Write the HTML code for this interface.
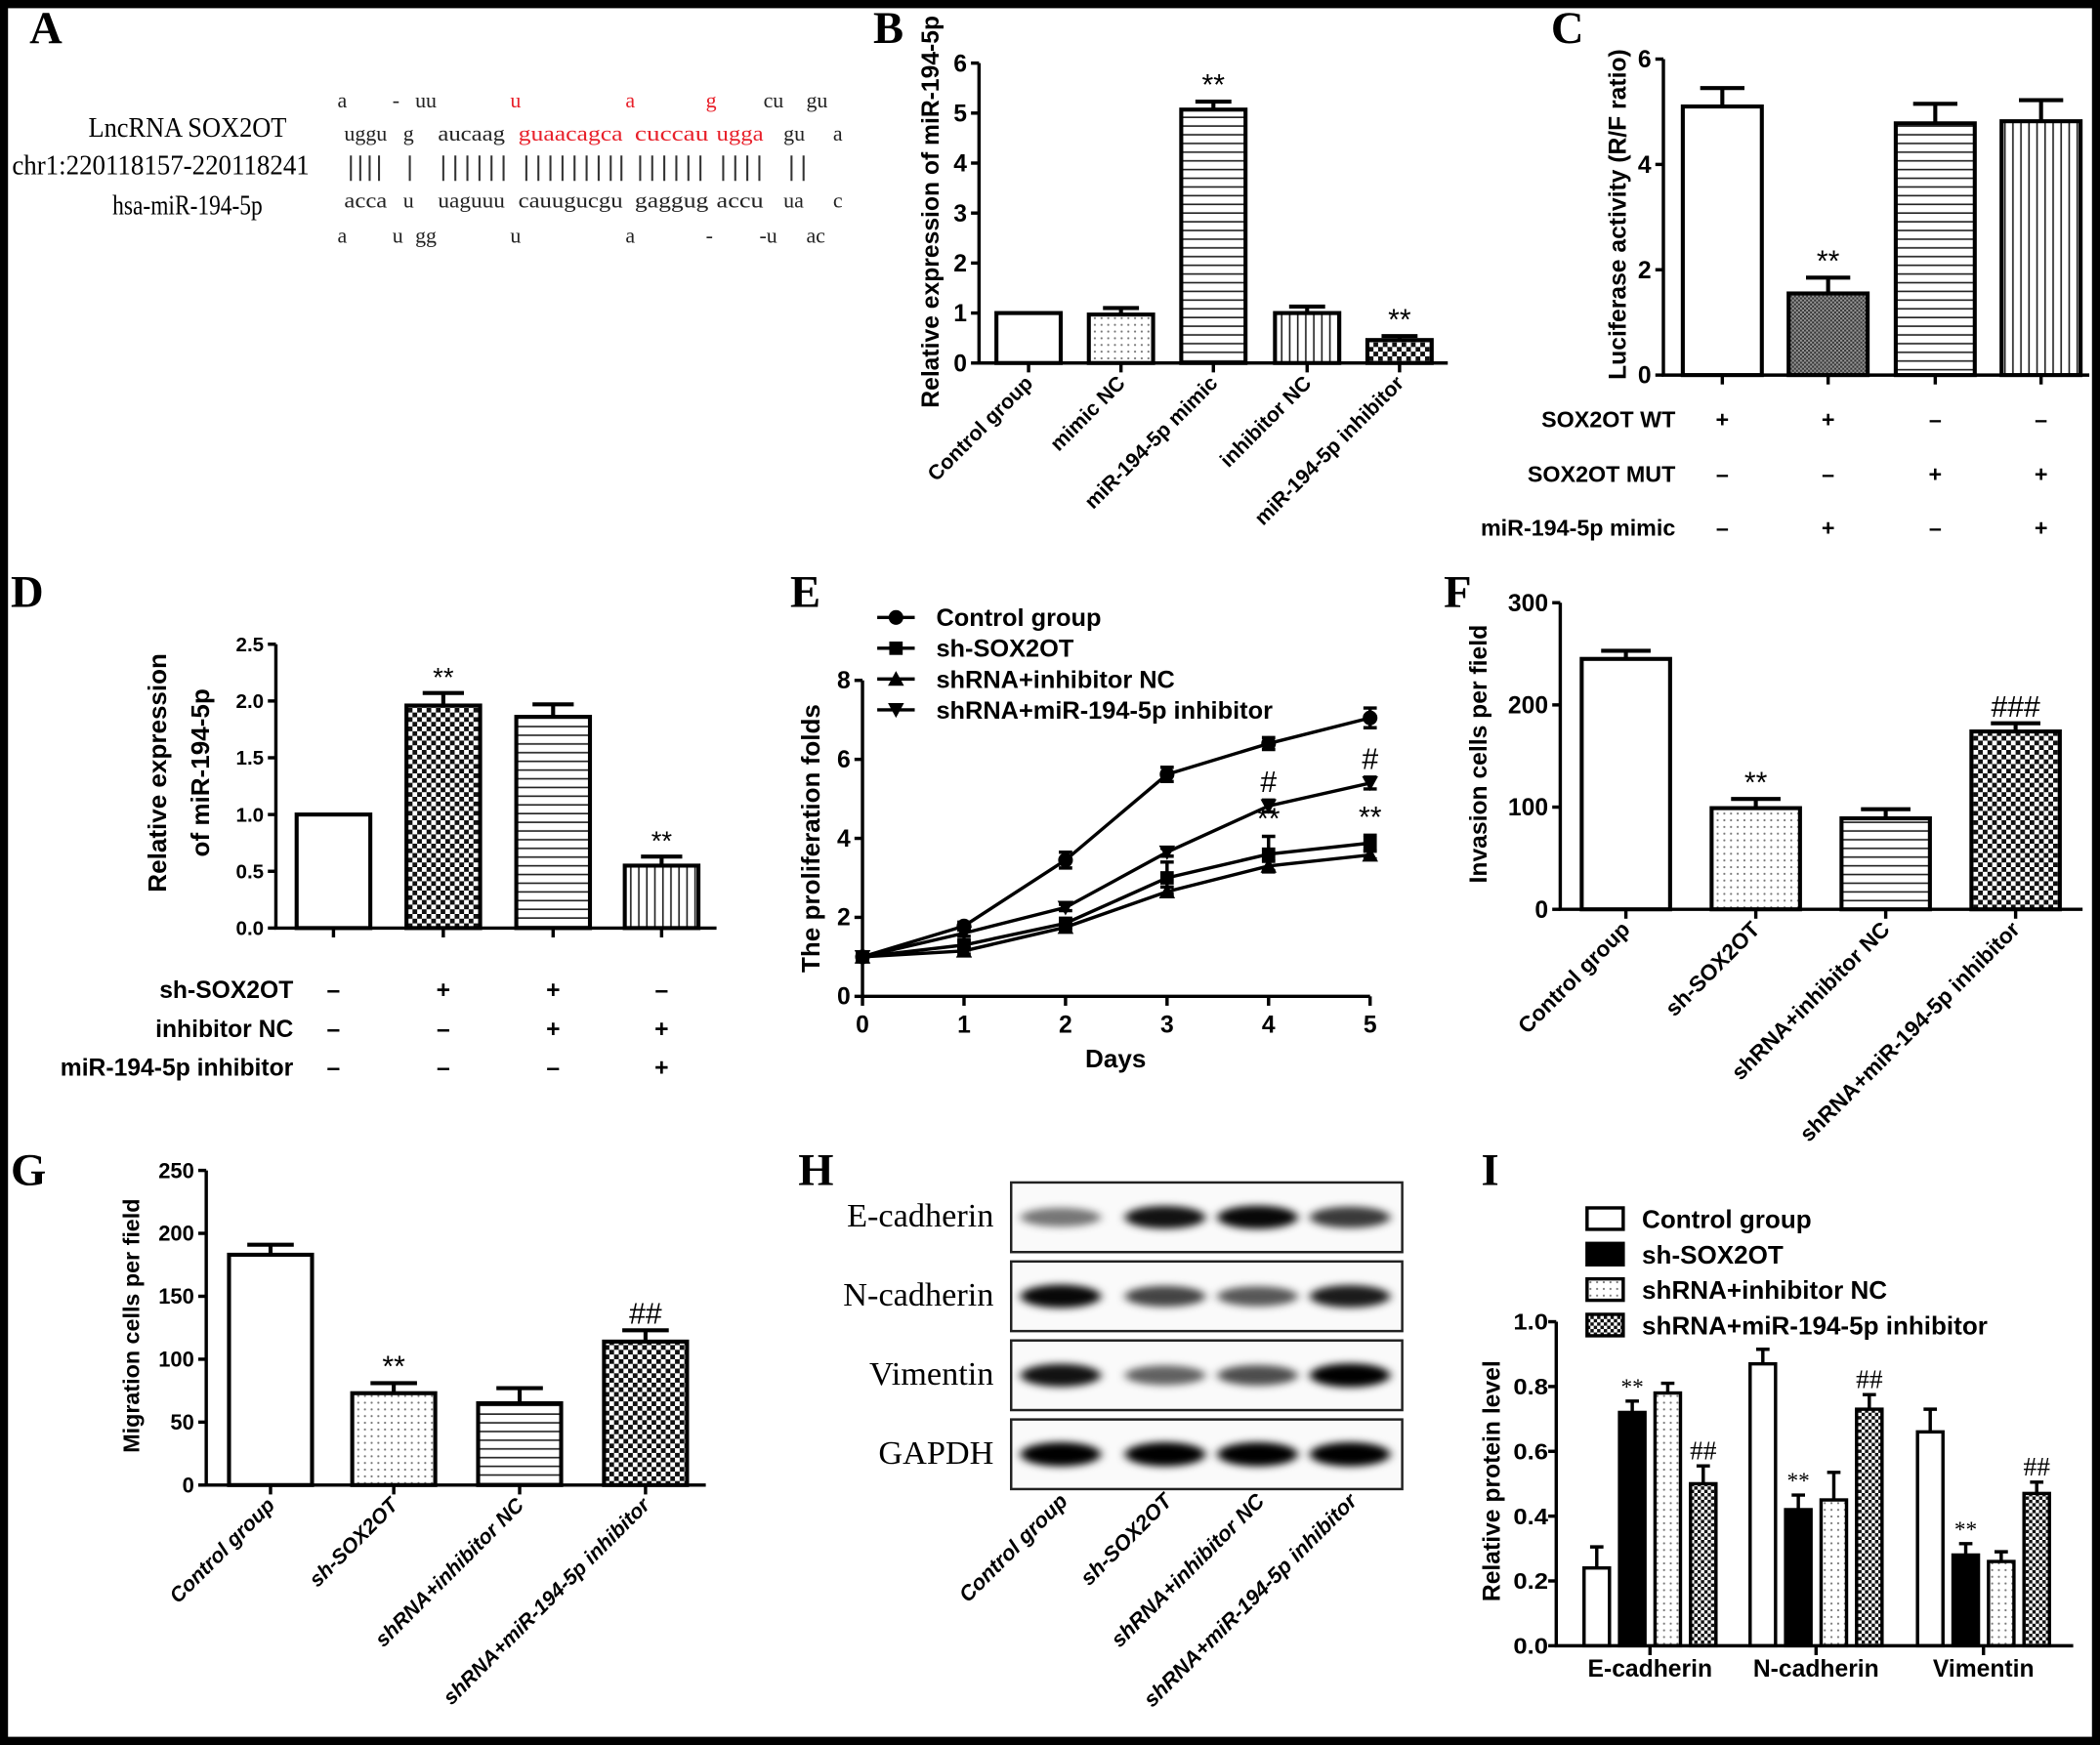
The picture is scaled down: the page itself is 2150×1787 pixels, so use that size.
<!DOCTYPE html>
<html><head><meta charset="utf-8"><style>
html,body{margin:0;padding:0;background:#000;}
svg{display:block;}
text{font-family:"Liberation Sans",Arial,sans-serif;}
.serif{font-family:"Liberation Serif","Times New Roman",serif;}
</style></head><body>
<svg id="fig" xmlns="http://www.w3.org/2000/svg" width="2150" height="1787" viewBox="0 0 1568 1303">
<defs>
<pattern id="pDots" width="5" height="5" patternUnits="userSpaceOnUse"><rect width="5" height="5" fill="#fff"/><circle cx="2.5" cy="2.5" r="0.8" fill="#777"/></pattern>
<pattern id="pH" width="6" height="6.5" patternUnits="userSpaceOnUse"><rect width="6" height="6.5" fill="#fff"/><line x1="0" y1="3" x2="6" y2="3" stroke="#222" stroke-width="1.2"/></pattern>
<pattern id="pV" width="6" height="6" patternUnits="userSpaceOnUse"><rect width="6" height="6" fill="#fff"/><line x1="3" y1="0" x2="3" y2="6" stroke="#222" stroke-width="1.2"/></pattern>
<pattern id="pC" width="7" height="7" patternUnits="userSpaceOnUse"><rect width="7" height="7" fill="#fff"/><rect width="3.5" height="3.5" fill="#111"/><rect x="3.5" y="3.5" width="3.5" height="3.5" fill="#111"/></pattern>
<pattern id="pCs" width="5" height="5" patternUnits="userSpaceOnUse"><rect width="5" height="5" fill="#fff"/><rect width="2.5" height="2.5" fill="#111"/><rect x="2.5" y="2.5" width="2.5" height="2.5" fill="#111"/></pattern>
<pattern id="pG" width="3" height="3" patternUnits="userSpaceOnUse"><rect width="3" height="3" fill="#999"/><rect width="1.5" height="1.5" fill="#333"/><rect x="1.5" y="1.5" width="1.5" height="1.5" fill="#333"/></pattern>
<filter id="blur" x="-30%" y="-100%" width="160%" height="300%"><feGaussianBlur stdDeviation="3.5 3"/></filter>
</defs>
<rect x="6" y="6" width="1556" height="1291" fill="#fff"/>
<g id="root"></g>
</svg>
<script>
// ===== DATA =====
const bCats=['Control group','mimic NC','miR-194-5p mimic','inhibitor NC','miR-194-5p inhibitor'];
const bVals=[1.0,0.97,5.07,1.0,0.46];
const bErrs=[0,0.13,0.16,0.13,0.08];
const bTicks=[0,1,2,3,4,5,6];
const bAnn=['','','**','','**'];

const cVals=[5.1,1.55,4.78,4.82];
const cErrs=[0.35,0.3,0.37,0.4];
const cTicks=[0,2,4,6];
const cAnn=['','**','',''];
const cRows=['SOX2OT WT','SOX2OT MUT','miR-194-5p mimic'];
const cSigns=[['+','+','–','–'],['–','–','+','+'],['–','+','–','+']];

const dVals=[1.0,1.96,1.86,0.55];
const dErrs=[0,0.11,0.11,0.08];
const dTicks=[0,0.5,1.0,1.5,2.0,2.5];
const dAnn=['','**','','**'];
const dRows=['sh-SOX2OT','inhibitor NC','miR-194-5p inhibitor'];
const dSigns=[['–','+','+','–'],['–','–','+','+'],['–','–','–','+']];

const eDays=[0,1,2,3,4,5];
const eTicksY=[0,2,4,6,8];
const eNames=['Control group','sh-SOX2OT','shRNA+inhibitor NC','shRNA+miR-194-5p inhibitor'];
const eCtrl=[1,1.78,3.45,5.62,6.4,7.05];
const eSh=[1,1.3,1.85,3.0,3.6,3.88];
const eNC=[1,1.15,1.75,2.65,3.3,3.58];
const eInh=[1,1.6,2.25,3.65,4.82,5.4];
const eCtrlErr=[0.05,0.1,0.2,0.18,0.15,0.25];
const eShErr=[0.05,0.1,0.12,0.4,0.45,0.2];
const eNCErr=[0.05,0.08,0.1,0.12,0.12,0.1];
const eInhErr=[0.05,0.08,0.08,0.1,0.15,0.15];

const fgCats=['Control group','sh-SOX2OT','shRNA+inhibitor NC','shRNA+miR-194-5p inhibitor'];
const fVals=[245,99,89,174];
const fErrs=[8,9,9,8];
const fTicks=[0,100,200,300];
const fAnn=['','**','','###'];

const gVals=[183,73,65,114];
const gErrs=[8,8,12,9];
const gTicks=[0,50,100,150,200,250];
const gAnn=['','**','','##'];

const hProteins=['E-cadherin','N-cadherin','Vimentin','GAPDH'];
const hIntensity=[[0.35,0.85,0.9,0.65],[0.9,0.6,0.5,0.8],[0.85,0.45,0.55,0.95],[1,1,1,1]];

const iGroups=['E-cadherin','N-cadherin','Vimentin'];
const iTicks=[0,0.2,0.4,0.6,0.8,1.0];
const iCtrl=[0.24,0.87,0.66];
const iSh=[0.72,0.42,0.28];
const iNC=[0.78,0.45,0.26];
const iInh=[0.50,0.73,0.47];
const iCtrlErr=[0.065,0.045,0.07];
const iShErr=[0.035,0.045,0.035];
const iNCErr=[0.03,0.085,0.03];
const iInhErr=[0.055,0.045,0.035];
const iShAnn=['**','**','**'];
const iInhAnn=['##','##','##'];

// ===== HELPERS =====
const NS='http://www.w3.org/2000/svg';
const root=document.getElementById('root');
function mk(tag,attrs,parent){const e=document.createElementNS(NS,tag);for(const k in attrs)e.setAttribute(k,attrs[k]);(parent||root).appendChild(e);return e;}
function txt(s,attrs,parent){const e=mk('text',attrs,parent);e.textContent=s;return e;}
function scaleY(y0,y1,max){return v=>y0-(v/max)*(y0-y1);}

function barChart(o){
  const g=mk('g',{});
  
  
  const sy=scaleY(o.y0,o.y1,o.max);
  // bars
  o.vals.forEach((v,i)=>{
    const cx=o.centers[i];
    const top=sy(v);
    const r=mk('rect',{x:cx-o.w/2,y:top,width:o.w,height:o.y0-top,fill:o.fills[i],stroke:'#000','stroke-width':o.sw||3},g);
    
    
    if(o.errs[i]>0){
      const ey=sy(v+o.errs[i]);
      const l=mk('path',{d:`M${cx},${top} V${ey} M${cx-o.w*0.28},${ey} H${cx+o.w*0.28}`,stroke:'#000','stroke-width':o.sw||3,fill:'none'},g);
      
      
    }
    if(o.ann&&o.ann[i]){
      const a=txt(o.ann[i],{x:cx,y:sy(v+o.errs[i])-5,'text-anchor':'middle','font-size':o.annSize||24,'font-family':'Liberation Sans, sans-serif'},g);
      
      
    }
  });
  // axes
  const ax=mk('path',{d:`M${o.ax},${o.y1} V${o.y0} H${o.xEnd}`,stroke:'#000','stroke-width':2.5,fill:'none'},g);
  
  
  o.ticks.forEach(t=>{
    const y=sy(t);
    mk('line',{x1:o.ax-6,y1:y,x2:o.ax,y2:y,stroke:'#000','stroke-width':2.5},g);
    const tl=txt(o.tickFmt?o.tickFmt(t):String(t),{x:o.ax-9,y:y+o.tickSize*0.35,'text-anchor':'end','font-size':o.tickSize,'font-weight':'bold'},g);
    
    
  });
  if(o.xTicks!==false){
    o.centers.forEach(cx=>mk('line',{x1:cx,y1:o.y0,x2:cx,y2:o.y0+7,stroke:'#000','stroke-width':2.5},g));
  }
  if(o.labels){
    o.labels.forEach((s,i)=>{
      const x=o.centers[i]+4,y=o.y0+16;
      const t=txt(s,{x:x,y:y,'text-anchor':'end','font-size':o.labSize,'font-weight':'bold','font-style':o.italic?'italic':'normal',transform:`rotate(-45 ${x} ${y})`},g);
      
      
    });
  }
  const ttl=o.title;
  if(ttl){
    ttl.lines.forEach((s,k)=>{
      const x=ttl.x+k*ttl.dx,y=ttl.cy;
      const t=txt(s,{x:x,y:y,'text-anchor':'middle','font-size':ttl.size,'font-weight':'bold',transform:`rotate(-90 ${x} ${y})`},g);
      
      
    });
  }
  return {g,sy};
}
function panelLetter(s,x,y){
  const t=txt(s,{x:x,y:y,'font-size':34,'font-weight':'bold',class:'serif'});
  
  
}
function signTable(rows,signs,centers,ys,labX,size){
  rows.forEach((r,j)=>{
    const t=txt(r,{x:labX,y:ys[j]+size*0.35,'text-anchor':'end','font-size':size,'font-weight':'bold'});
    
    
    signs[j].forEach((s,i)=>{
      const c=txt(s,{x:centers[i],y:ys[j]+size*0.35,'text-anchor':'middle','font-size':size,'font-weight':'bold'});
      
      
    });
  });
}

// ===== PANEL A =====
panelLetter('A',22,32);
[['LncRNA SOX2OT',96],['chr1:220118157-220118241',124],['hsa-miR-194-5p',154]].forEach((p,i)=>{
  const t=txt(p[0],{x:[140,120,140][i],y:p[1]+6,'text-anchor':'middle','font-size':21,class:'serif',textLength:[148,222,112][i],lengthAdjust:'spacingAndGlyphs'});
  
  
});
const seqRows=[
 {y:80,items:[['a',252,0],['-',293,0],['uu',310,0],['u',381,1],['a',467,1],['g',527,1],['cu',570,0],['gu',602,0]]},
 {y:105,items:[['uggu',257,0],['g',301,0],['aucaag',327,0],['guaacagca',387,1],['cuccau',474,1],['ugga',535,1],['gu',585,0],['a',622,0]]},
 {y:155,items:[['acca',257,0],['u',301,0],['uaguuu',327,0],['cauugucgu',387,0],['gaggug',474,0],['accu',535,0],['ua',585,0],['c',622,0]]},
 {y:181,items:[['a',252,0],['u',293,0],['gg',310,0],['u',381,0],['a',467,0],['-',527,0],['-u',567,0],['ac',602,0]]}];
const seqW={'uggu':32,'aucaag':50,'guaacagca':78,'cuccau':55,'ugga':35,'acca':32,'uaguuu':50,'cauugucgu':78,'gaggug':55,'accu':35};
seqRows.forEach(r=>r.items.forEach(it=>{
  const a={x:it[1],y:r.y,'font-size':16,class:'serif',fill:it[2]?'#e8202a':'#222'};
  if(seqW[it[0]]){a.textLength=seqW[it[0]];a.lengthAdjust='spacingAndGlyphs';}
  const t=txt(it[0],a);
  
  
}));
const pairX=[262,269,276,283,306,331,340,349,358,367,376,393,402,411,420,429,438,447,456,464,478,487,496,505,514,523,540,549,558,567,591,600];
const pairs=mk('path',{d:pairX.map(x=>`M${x},116 V135`).join(' '),stroke:'#333','stroke-width':1.5});



// ===== PANEL B =====
panelLetter('B',652,32);
barChart({name:'chart-b',ax:731,y0:271,y1:47,max:6,ticks:bTicks,xEnd:1081,
  centers:[768,837,906,976,1045],w:48,vals:bVals,errs:bErrs,ann:bAnn,
  fills:['#fff','url(#pDots)','url(#pH)','url(#pV)','url(#pC)'],
  labels:bCats,labSize:15.5,tickSize:18,annSize:22,
  title:{lines:['Relative expression of miR-194-5p'],x:701,dx:0,cy:158,size:18}});

// ===== PANEL C =====
panelLetter('C',1158,32);
const cCenters=[1286,1365,1445,1524];
barChart({name:'chart-c',ax:1242,y0:280,y1:44,max:6,ticks:cTicks,xEnd:1560,
  centers:cCenters,w:59,vals:cVals,errs:cErrs,ann:cAnn,
  fills:['#fff','url(#pG)','url(#pH)','url(#pV)'],tickSize:18,annSize:22,
  title:{lines:['Luciferase activity (R/F ratio)'],x:1214,dx:0,cy:160,size:18}});
signTable(cRows,cSigns,cCenters,[313,354,394],1251,17);

// ===== PANEL D =====
panelLetter('D',8,453);
const dCenters=[249,331,413,494];
barChart({name:'chart-d',ax:206,y0:693,y1:481,max:2.5,ticks:dTicks,xEnd:535,
  centers:dCenters,w:55,vals:dVals,errs:dErrs,ann:dAnn,
  fills:['#fff','url(#pC)','url(#pH)','url(#pV)'],tickSize:15,annSize:20,
  tickFmt:t=>t.toFixed(1),
  title:{lines:['Relative expression','of miR-194-5p'],x:124,dx:32,cy:577,size:19}});
signTable(dRows,dSigns,dCenters,[739,768,797],219,18);

// ===== PANEL E =====
panelLetter('E',590,453);
(function(){
  const g=mk('g',{});
  
  
  const x0=644,x5=1023,y0=744,y8=508;
  const sx=d=>x0+d/5*(x5-x0), sy=v=>y0-v/8*(y0-y8);
  const ax=mk('path',{d:`M${x0},${y8} V${y0} H${x5}`,stroke:'#000','stroke-width':2.5,fill:'none'},g);
  
  
  eTicksY.forEach(t=>{mk('line',{x1:x0-6,y1:sy(t),x2:x0,y2:sy(t),stroke:'#000','stroke-width':2.5},g);
    const l=txt(String(t),{x:x0-9,y:sy(t)+6,'text-anchor':'end','font-size':18,'font-weight':'bold'},g);
    
    });
  eDays.forEach(d=>{mk('line',{x1:sx(d),y1:y0,x2:sx(d),y2:y0+7,stroke:'#000','stroke-width':2.5},g);
    const l=txt(String(d),{x:sx(d),y:y0+27,'text-anchor':'middle','font-size':18,'font-weight':'bold'},g);
    
    });
  const xt=txt('Days',{x:833,y:797,'text-anchor':'middle','font-size':19,'font-weight':'bold'},g);
  
  
  const yt=txt('The proliferation folds',{x:612,y:626,'text-anchor':'middle','font-size':19,'font-weight':'bold',transform:'rotate(-90 612 626)'},g);
  
  
  const series=[[eCtrl,eCtrlErr,'circle'],[eSh,eShErr,'square'],[eNC,eNCErr,'up'],[eInh,eInhErr,'down']];
  function marker(kind,x,y,p){
    if(kind==='circle')return mk('circle',{cx:x,cy:y,r:5.5,fill:'#000'},p);
    if(kind==='square')return mk('rect',{x:x-5,y:y-5,width:10,height:10,fill:'#000'},p);
    if(kind==='up')return mk('path',{d:`M${x},${y-6} L${x+6},${y+5} L${x-6},${y+5}Z`,fill:'#000'},p);
    return mk('path',{d:`M${x},${y+6} L${x+6},${y-5} L${x-6},${y-5}Z`,fill:'#000'},p);
  }
  series.forEach((s,k)=>{
    const pl=mk('polyline',{points:s[0].map((v,i)=>sx(eDays[i])+','+sy(v)).join(' '),fill:'none',stroke:'#000','stroke-width':2.5},g);
    
    
    s[0].forEach((v,i)=>{
      const x=sx(eDays[i]);
      const eb=mk('path',{d:`M${x},${sy(v-s[1][i])} V${sy(v+s[1][i])} M${x-5},${sy(v-s[1][i])} H${x+5} M${x-5},${sy(v+s[1][i])} H${x+5}`,stroke:'#000','stroke-width':2.5,fill:'none'},g);
      
      
      const m=marker(s[2],x,sy(v),g);
      
      
    });
    const ly=461+k*23;
    mk('line',{x1:655,y1:ly,x2:683,y2:ly,stroke:'#000','stroke-width':2.5},g);
    marker(s[2],669,ly,g);
    const lt=txt(eNames[k],{x:699,y:ly+6.5,'font-size':18.5,'font-weight':'bold'},g);
    
    
  });
  [['#',4,eInh],['#',5,eInh],['**',4,eSh],['**',5,eSh]].forEach(a=>{
    const i=a[1];const v=a[2][i]+(a[0]==='#'?eInhErr[i]:eShErr[i]);
    const t=txt(a[0],{x:sx(i),y:sy(v)-6,'text-anchor':'middle','font-size':22,'font-family':'Liberation Sans, sans-serif'},g);
    
    
  });
})();

// ===== PANEL F =====
panelLetter('F',1078,453);
barChart({name:'chart-f',ax:1165,y0:679,y1:450,max:300,ticks:fTicks,xEnd:1555,
  centers:[1214,1311,1408,1505],w:66,vals:fVals,errs:fErrs,ann:fAnn,
  fills:['#fff','url(#pDots)','url(#pH)','url(#pC)'],labels:fgCats,labSize:16.5,tickSize:18,annSize:22,
  title:{lines:['Invasion cells per field'],x:1110,dx:0,cy:563,size:18}});

// ===== PANEL G =====
panelLetter('G',8,885);
barChart({name:'chart-g',ax:154,y0:1109,y1:874,max:250,ticks:gTicks,xEnd:527,
  centers:[202,294,388,482],w:62,vals:gVals,errs:gErrs,ann:gAnn,
  fills:['#fff','url(#pDots)','url(#pH)','url(#pC)'],labels:fgCats,labSize:15.5,tickSize:16,annSize:22,italic:true,
  title:{lines:['Migration cells per field'],x:104,dx:0,cy:990,size:17}});

// ===== PANEL H =====
panelLetter('H',596,885);
(function(){
  const g=mk('g',{});
  
  
  const tops=[883,942,1001,1060],laneX=[792,870,939,1008];
  hProteins.forEach((p,j)=>{
    const box=mk('rect',{x:755,y:tops[j],width:292,height:52,fill:'#fafafa',stroke:'#222','stroke-width':1.8},g);
    
    
    hIntensity[j].forEach((v,i)=>{
      const b=mk('ellipse',{cx:laneX[i],cy:tops[j]+26,rx:30,ry:6+3*v,fill:'#000','fill-opacity':Math.min(1,0.25+0.8*v),filter:'url(#blur)'},g);
      
      
    });
    const t=txt(p,{x:742,y:tops[j]+33,'text-anchor':'end','font-size':25,class:'serif'},g);
    
    
  });
  fgCats.forEach((s,i)=>{
    const x=laneX[i]+6,y=1122;
    const t=txt(s,{x:x,y:y,'text-anchor':'end','font-size':16,'font-weight':'bold','font-style':'italic',transform:`rotate(-45 ${x} ${y})`},g);
    
    
  });
})();

// ===== PANEL I =====
panelLetter('I',1106,885);
(function(){
  const g=mk('g',{});
  
  
  const ax=1162,y0=1229,y1=987,gc=[1232,1356,1481],bw=19,step=26.5;
  const sy=v=>y0-v*(y0-y1);
  const series=[[iCtrl,iCtrlErr,'#fff',null],[iSh,iShErr,'#000',iShAnn],[iNC,iNCErr,'url(#pDots)',null],[iInh,iInhErr,'url(#pCs)',iInhAnn]];
  series.forEach((s,k)=>{
    s[0].forEach((v,i)=>{
      const cx=gc[i]+(k-1.5)*step;
      const r=mk('rect',{x:cx-bw/2,y:sy(v),width:bw,height:y0-sy(v),fill:s[2],stroke:'#000','stroke-width':2.5},g);
      
      
      const ey=sy(v+s[1][i]);
      const e=mk('path',{d:`M${cx},${sy(v)} V${ey} M${cx-5},${ey} H${cx+5}`,stroke:'#000','stroke-width':2.5,fill:'none'},g);
      
      
      if(s[3]){
        const a=txt(s[3][i],{x:cx,y:ey-5,'text-anchor':'middle','font-size':s[3][i]==='**'?17:20,class:'serif'},g);
        
        
      }
    });
    const ly=910+k*26.5;
    const lb=mk('rect',{x:1185,y:ly-8,width:27,height:16,fill:s[2],stroke:'#000','stroke-width':2.5},g);
    
    
    const lt=txt(eNames[k],{x:1226,y:ly+7,'font-size':19,'font-weight':'bold'},g);
    
    
  });
  const axp=mk('path',{d:`M${ax},${y1} V${y0} H${1548}`,stroke:'#000','stroke-width':2.5,fill:'none'},g);
  
  
  iTicks.forEach(t=>{mk('line',{x1:ax-6,y1:sy(t),x2:ax,y2:sy(t),stroke:'#000','stroke-width':2.5},g);
    const l=txt(t.toFixed(1),{x:ax-6,y:sy(t)+6,'text-anchor':'end','font-size':17,'font-weight':'bold',textLength:26,lengthAdjust:'spacingAndGlyphs'},g);
    
    });
  iGroups.forEach((s,i)=>{mk('line',{x1:gc[i],y1:y0,x2:gc[i],y2:y0+7,stroke:'#000','stroke-width':2.5},g);
    const l=txt(s,{x:gc[i],y:1252,'text-anchor':'middle','font-size':18,'font-weight':'bold'},g);
    
    });
  const yt=txt('Relative protein level',{x:1120,y:1106,'text-anchor':'middle','font-size':18,'font-weight':'bold',transform:'rotate(-90 1120 1106)'},g);
  
  
})();
</script>
</body></html>
